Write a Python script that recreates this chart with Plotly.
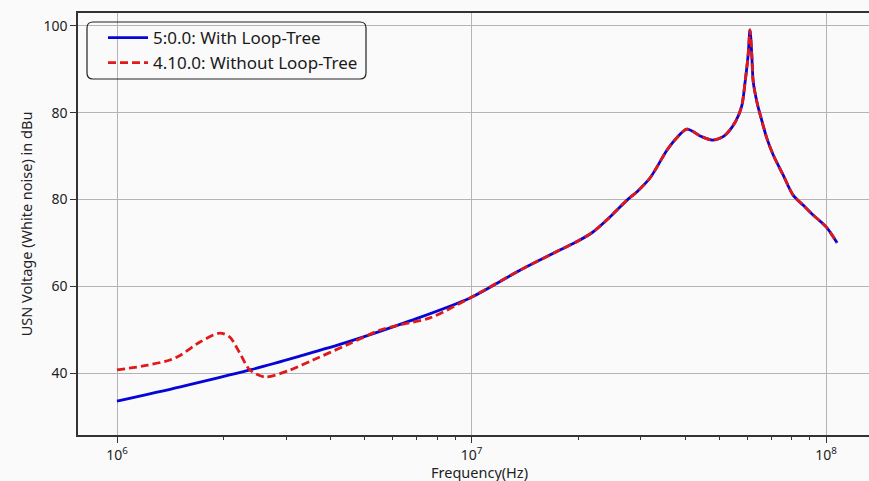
import plotly.graph_objects as go

# Frequency (Hz) and level in axis units (gridlines equally spaced)
freq_blue = [1.0e6, 1.51e6, 2.37e6, 3.28e6, 4.46e6, 6.7e6, 9.9e6, 1.37e7, 1.78e7,
             1.985e7, 2.20e7, 2.46e7, 2.75e7, 2.93e7, 3.19e7, 3.56e7, 3.80e7, 4.05e7,
             4.45e7, 4.77e7, 5.15e7, 5.55e7, 5.78e7, 5.91e7, 6.03e7, 6.10e7, 6.17e7,
             6.23e7, 6.4e7, 6.52e7, 6.8e7, 7.09e7, 7.57e7, 8.07e7, 8.61e7, 9.19e7,
             9.62e7, 1.007e8, 1.074e8]
level_blue = [33.5, 36.8, 40.7, 43.9, 47.1, 52.0, 57.3, 63.7, 68.4,
              70.3, 72.5, 76.0, 79.9, 81.8, 85.0, 91.4, 94.3, 96.2,
              94.5, 93.7, 94.6, 97.9, 101.5, 107.1, 113.5, 119.1, 113.5,
              107.1, 102.0, 99.5, 94.2, 90.3, 85.6, 81.0, 78.7, 76.4,
              75.0, 73.4, 70.0]

freq_red = [1.0e6, 1.22e6, 1.41e6, 1.51e6, 1.71e6, 1.95e6, 2.08e6, 2.22e6, 2.37e6,
            2.61e6, 3.08e6, 3.57e6, 4.46e6, 5.52e6, 6.29e6, 7.63e6, 9.9e6]
level_red = [40.7, 41.8, 43.0, 44.1, 47.1, 49.2, 48.3, 44.6, 40.7,
             39.1, 40.7, 43.0, 46.5, 49.9, 51.1, 52.7, 57.3]
# above ~1e7 the red trace follows the blue one
freq_red = freq_red + freq_blue[7:]
level_red = level_red + level_blue[7:]

y_tickvals = [40, 60, 80, 100, 120]
y_ticktext = ["40", "60", "80", "80", "100"]
x_tickvals = [1e6, 1e7, 1e8]
x_ticktext = ["10<sup>6</sup>", "10<sup>7</sup>", "10<sup>8</sup>"]
x_minor = [m * 10 ** e for e in (6, 7) for m in range(2, 10)]

W, H = 869, 481
L, T, B = 78, 13, 46

fig = go.Figure()
fig.add_trace(go.Scatter(x=freq_blue, y=level_blue, mode="lines",
                         name="5:0.0: With Loop-Tree",
                         line=dict(color="#0505d8", width=2.8, shape="spline", smoothing=0.8)))
fig.add_trace(go.Scatter(x=freq_red, y=level_red, mode="lines",
                         name="4.10.0: Without Loop-Tree",
                         line=dict(color="#e01818", width=2.8, dash="8px,4px", shape="spline", smoothing=0.8)))

pw = W - L
ph = H - T - B
def px(x):
    return (x - L) / pw
def py(y):
    return 1 - (y - T) / ph
# rounded legend frame
x0, x1, y0, y1, r = 87, 366, 22, 79, 6
path = (f"M {px(x0+r)},{py(y0)} L {px(x1-r)},{py(y0)} Q {px(x1)},{py(y0)} {px(x1)},{py(y0+r)} "
        f"L {px(x1)},{py(y1-r)} Q {px(x1)},{py(y1)} {px(x1-r)},{py(y1)} "
        f"L {px(x0+r)},{py(y1)} Q {px(x0)},{py(y1)} {px(x0)},{py(y1-r)} "
        f"L {px(x0)},{py(y0+r)} Q {px(x0)},{py(y0)} {px(x0+r)},{py(y0)} Z")
fig.add_shape(type="path", path=path, xref="paper", yref="paper",
              line=dict(color="#222222", width=1.2), fillcolor="rgba(255,255,255,0)", layer="above")

# x-axis title placed just below the tick labels (partly cut by the bottom edge, as in the reference)
fig.add_annotation(text="Frequency(Hz)", xref="paper", yref="paper",
                   x=px(479), y=py(472), xanchor="center", yanchor="middle",
                   showarrow=False, font=dict(size=14.5, color="#222222"))

fig.update_layout(
    width=W, height=H,
    margin=dict(l=L, r=0, t=T, b=B, pad=0),
    paper_bgcolor="#fafafa", plot_bgcolor="#fafafa",
    font=dict(family="Noto Sans, Open Sans, sans-serif", color="#222222", size=14),
    legend=dict(x=px(103), y=py(20), xanchor="left", yanchor="top",
                bgcolor="rgba(0,0,0,0)", borderwidth=0, font=dict(size=17, color="#1a1a1a"),
                tracegroupgap=0, itemwidth=40),
    showlegend=True,
)
fig.update_xaxes(type="log", range=[5.890, 8.121], automargin=False,
                 tickmode="array", tickvals=x_tickvals, ticktext=x_ticktext,
                 ticks="outside", ticklen=6, tickcolor="#333333", tickfont=dict(size=14),
                 showgrid=True, gridcolor="#b4b4b4", gridwidth=1,
                 showline=True, linecolor="#333333", linewidth=1.5, mirror=True,
                 zeroline=False,
                 minor=dict(tickmode="array", tickvals=x_minor, ticks="outside", ticklen=3,
                            tickcolor="#333333", showgrid=False))
fig.update_yaxes(range=[25.71, 122.98], automargin=False,
                 tickmode="array", tickvals=y_tickvals, ticktext=y_ticktext,
                 ticks="outside", ticklen=6, tickcolor="#333333", tickfont=dict(size=14),
                 showgrid=True, gridcolor="#b4b4b4", gridwidth=1,
                 showline=True, linecolor="#333333", linewidth=1.5, mirror=False,
                 zeroline=False,
                 title=dict(text="USN Voltage (White noise) in dBu", font=dict(size=14.5), standoff=7))

fig.write_html("out.html", config={"displayModeBar": False},
               post_script="document.body.style.margin='0px';document.body.style.overflow='hidden';")
